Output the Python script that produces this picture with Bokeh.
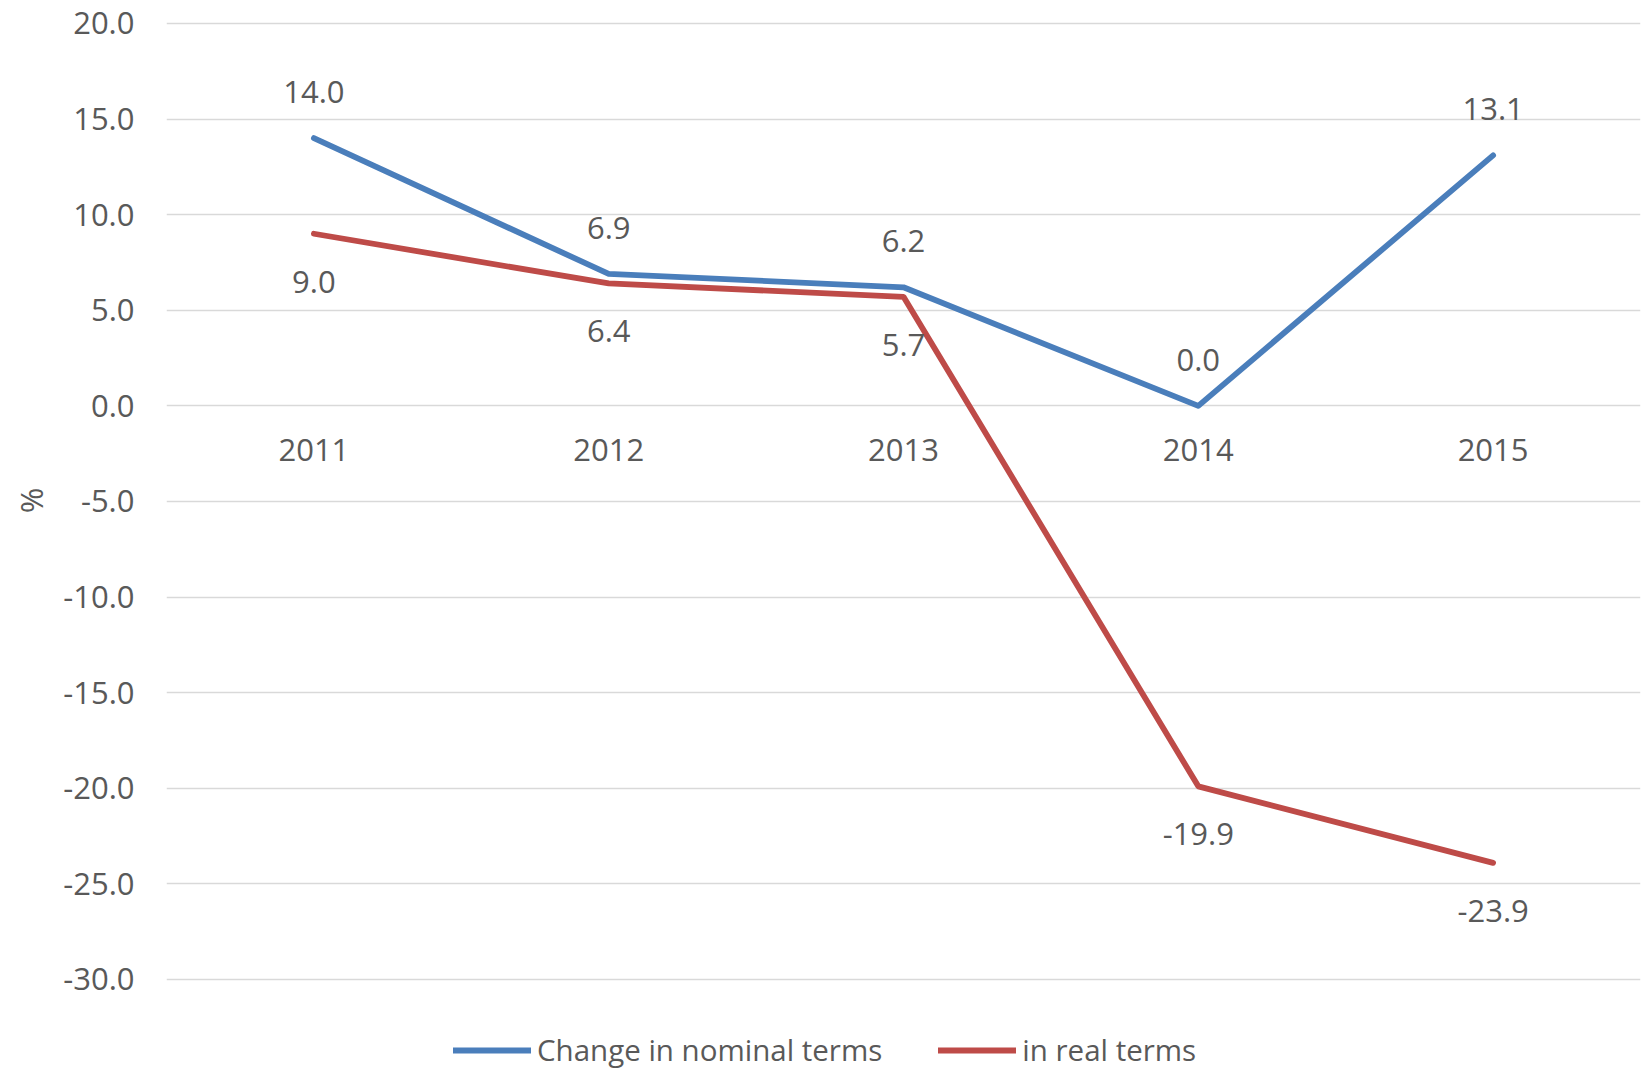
from bokeh.plotting import figure
from bokeh.models import (Range1d, FactorRange, ColumnDataSource, Legend, LegendItem,
                          FixedTicker, NumeralTickFormatter, Title)
from bokeh.core.properties import value
from bokeh.embed import file_html
from bokeh.resources import INLINE

# ---- data ----
years = ["2011", "2012", "2013", "2014", "2015"]
nominal = [14.0, 6.9, 6.2, 0.0, 13.1]
real = [9.0, 6.4, 5.7, -19.9, -23.9]
y_ticks = [-30, -25, -20, -15, -10, -5, 0, 5, 10, 15, 20]
series_names = ["Change in nominal terms", "in real terms"]
axis_title = "%"

BLUE = "#4A7EBB"
RED = "#BE4B48"
GREY = "#595959"
FONT = "Open Sans"
FS = "31px"

src = ColumnDataSource(dict(
    x=years,
    nominal=nominal,
    real=real,
    nominal_lbl=[f"{v:.1f}" for v in nominal],
    real_lbl=[f"{v:.1f}" for v in real],
))

# frame reaches the bottom of the canvas so that the legend can sit inside it;
# the value axis only shows ticks/gridlines from -30 to 20
p = figure(width=1642, height=1070,
           x_range=FactorRange(factors=years, range_padding=0),
           y_range=Range1d(-34.76, 20.1),
           output_backend="svg", toolbar_location=None,
           min_border_left=165, min_border_right=2,
           min_border_top=21, min_border_bottom=0)

p.outline_line_color = None
p.background_fill_color = "white"
p.border_fill_color = "white"

# grid
p.xgrid.grid_line_color = None
p.ygrid.grid_line_color = "#D9D9D9"
p.ygrid.grid_line_width = 1.3
p.ygrid.ticker = FixedTicker(ticks=y_ticks)

# y axis
p.yaxis.ticker = FixedTicker(ticks=y_ticks)
p.yaxis.formatter = NumeralTickFormatter(format="0.0")
p.yaxis.axis_line_color = None
p.yaxis.major_tick_line_color = None
p.yaxis.minor_tick_line_color = None
p.yaxis.major_tick_out = 0
p.yaxis.major_tick_in = 0
p.yaxis.minor_tick_out = 0
p.yaxis.major_label_text_font = FONT
p.yaxis.major_label_text_font_size = FS
p.yaxis.major_label_text_color = GREY
p.yaxis.major_label_standoff = 32

# value-axis title, centred on the -30..20 part of the frame
ytitle = Title(text=axis_title, align="right", offset=466, vertical_align="middle",
               standoff=16, text_font=FONT, text_font_size=FS,
               text_font_style="normal", text_color=GREY)
p.add_layout(ytitle, "left")

# x axis at zero
p.xaxis.fixed_location = 0
p.xaxis.axis_line_color = None
p.xaxis.major_tick_line_color = None
p.xaxis.minor_tick_line_color = None
p.xaxis.major_tick_out = 0
p.xaxis.major_tick_in = 0
p.xaxis.major_label_text_font = FONT
p.xaxis.major_label_text_font_size = FS
p.xaxis.major_label_text_color = GREY
p.xaxis.major_label_standoff = 33

# lines
r_nom = p.line("x", "nominal", source=src, line_color=BLUE, line_width=5.8,
               line_cap="round", line_join="round")
r_real = p.line("x", "real", source=src, line_color=RED, line_width=5.8,
                line_cap="round", line_join="round")

# data labels
p.text("x", "nominal", text="nominal_lbl", source=src,
       text_font=value(FONT), text_font_size=FS, text_color=GREY,
       text_align="center", text_baseline="alphabetic", y_offset=-46)
p.text("x", "real", text="real_lbl", source=src,
       text_font=value(FONT), text_font_size=FS, text_color=GREY,
       text_align="center", text_baseline="alphabetic", y_offset=48)

legend = Legend(items=[LegendItem(label=series_names[0], renderers=[r_nom]),
                       LegendItem(label=series_names[1], renderers=[r_real])],
                location=(287, 0), orientation="horizontal",
                padding=0, margin=0, spacing=56, glyph_width=78, glyph_height=36,
                label_standoff=6, label_height=36,
                label_text_font=FONT, label_text_font_size="29.5px", label_text_color=GREY,
                background_fill_alpha=0, border_line_color=None)
p.add_layout(legend, "center")

open("out.html", "w").write(file_html(p, INLINE))
